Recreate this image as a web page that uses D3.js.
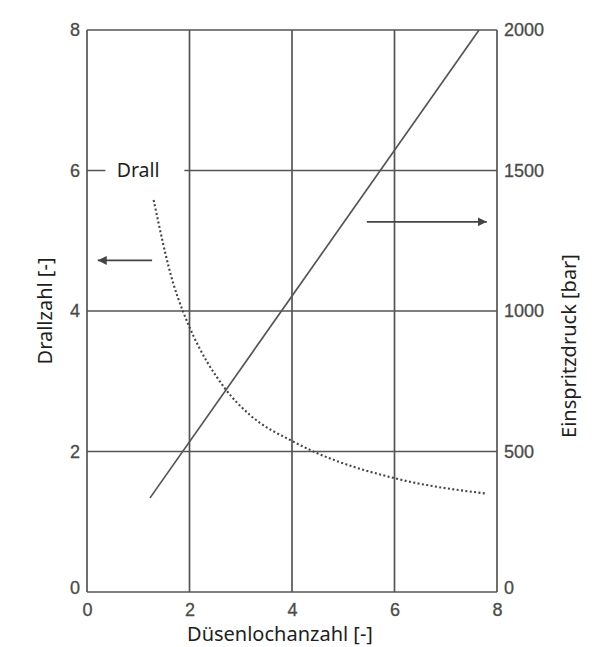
<!DOCTYPE html>
<html>
<head>
<meta charset="utf-8">
<script src="https://cdn.jsdelivr.net/npm/d3@7"></script>
<style>
  body { margin: 0; background: #fff; }
  svg { display: block; }
</style>
</head>
<body>
<div id="chart"></div>
<script>
const W = 595, H = 647;
const margin = {top: 30, right: 98, bottom: 55, left: 87};
const w = W - margin.left - margin.right;
const h = H - margin.top - margin.bottom;

// Düsenlochanzahl vs. Einspritzdruck (solid line, right axis)
const druckX = [1.23, 7.65];
const druckY = [335, 2000];

// Düsenlochanzahl vs. Drallzahl (dotted curve, left axis)
const drallX = [1.30, 1.68, 1.87, 2.0, 2.69, 3.18, 4.0, 4.45, 6.0, 7.8];
const drallY = [5.58, 4.40, 4.0, 3.77, 2.90, 2.52, 2.15, 1.99, 1.62, 1.40];

const xTicks = [0, 2, 4, 6, 8];
const yLeftTicks = [0, 2, 4, 6, 8];
const yRightTicks = [0, 500, 1000, 1500, 2000];

const gridColor = "#555";
const textColor = "#4a4a4a";

const svg = d3.select("#chart").append("svg")
  .attr("width", W).attr("height", H);

svg.append("defs").append("marker")
  .attr("id", "arrow")
  .attr("viewBox", "0 0 10 10")
  .attr("refX", 10).attr("refY", 5)
  .attr("markerWidth", 9).attr("markerHeight", 9)
  .attr("markerUnits", "userSpaceOnUse")
  .attr("orient", "auto")
  .append("path")
  .attr("d", "M0,0 L10,5 L0,10 Z")
  .attr("fill", "#444");

const g = svg.append("g")
  .attr("transform", "translate(" + margin.left + "," + margin.top + ")");

const x = d3.scaleLinear().domain([0, 8]).range([0, w]);
const yL = d3.scaleLinear().domain([0, 8]).range([h, 0]);
const yR = d3.scaleLinear().domain([0, 2000]).range([h, 0]);

// grid lines
g.append("g")
  .selectAll("line.v")
  .data(xTicks)
  .enter().append("line")
  .attr("x1", d => x(d)).attr("x2", d => x(d))
  .attr("y1", 0).attr("y2", h)
  .attr("stroke", gridColor).attr("stroke-width", 1.7);

g.append("g")
  .selectAll("line.h")
  .data(yLeftTicks)
  .enter().append("line")
  .attr("x1", 0).attr("x2", w)
  .attr("y1", d => yL(d)).attr("y2", d => yL(d))
  .attr("stroke", gridColor).attr("stroke-width", 1.7);

// tick labels via axes
const tickFont = "'Liberation Sans', Arial, sans-serif";

const xAxis = g.append("g")
  .attr("transform", "translate(0," + h + ")")
  .call(d3.axisBottom(x).tickValues(xTicks).tickSize(0).tickPadding(11));

const yAxisL = g.append("g")
  .call(d3.axisLeft(yL).tickValues(yLeftTicks).tickSize(0).tickPadding(7));

const yAxisR = g.append("g")
  .attr("transform", "translate(" + w + ",0)")
  .call(d3.axisRight(yR).tickValues(yRightTicks).tickFormat(d3.format("d")).tickSize(0).tickPadding(7));

[xAxis, yAxisL, yAxisR].forEach(a => {
  a.select(".domain").remove();
  a.selectAll("text")
    .attr("fill", textColor)
    .attr("stroke", textColor)
    .attr("stroke-width", 0.3)
    .style("font-family", tickFont)
    .style("font-size", "18px");
});
// the zero labels on the side axes sit a bit above the baseline
yAxisL.selectAll("text").filter(d => d === 0).attr("dy", "0.1em");
yAxisR.selectAll("text").filter(d => d === 0).attr("dy", "0.1em");

// "Drall" label interrupting the 6-gridline
const labelFont = "'Noto Sans', 'Open Sans', sans-serif";
g.append("rect")
  .attr("x", x(0.36)).attr("y", yL(6) - 12)
  .attr("width", x(1.9) - x(0.36)).attr("height", 24)
  .attr("fill", "#fff");
g.append("text")
  .attr("x", x(0.58)).attr("y", yL(6))
  .attr("dy", "0.35em")
  .attr("fill", "#1e1e1e")
  .style("font-family", labelFont)
  .style("font-size", "19.5px")
  .text("Drall");

// solid line (Einspritzdruck)
const druckData = druckX.map((d, i) => [d, druckY[i]]);
g.append("path")
  .datum(druckData)
  .attr("fill", "none")
  .attr("stroke", "#555")
  .attr("stroke-width", 1.7)
  .attr("d", d3.line().x(d => x(d[0])).y(d => yR(d[1])));

// dotted curve (Drallzahl)
const drallData = drallX.map((d, i) => [d, drallY[i]]);
g.append("path")
  .datum(drallData)
  .attr("fill", "none")
  .attr("stroke", "#444")
  .attr("stroke-width", 2.1)
  .attr("stroke-dasharray", "2,2.4")
  .attr("d", d3.line().curve(d3.curveMonotoneX).x(d => x(d[0])).y(d => yL(d[1])));

// arrows pointing to the relevant axes
const arrowLeft = [[1.27, 4.72], [0.21, 4.72]];
const arrowRight = [[5.46, 5.27], [7.8, 5.27]];
[arrowLeft, arrowRight].forEach(a => {
  g.append("line")
    .attr("x1", x(a[0][0])).attr("y1", yL(a[0][1]))
    .attr("x2", x(a[1][0])).attr("y2", yL(a[1][1]))
    .attr("stroke", "#444").attr("stroke-width", 1.7)
    .attr("marker-end", "url(#arrow)");
});

// axis titles
svg.append("text")
  .attr("x", margin.left + w / 2 - 12).attr("y", 641)
  .attr("text-anchor", "middle")
  .attr("fill", "#1e1e1e")
  .style("font-family", labelFont)
  .style("font-size", "20px")
  .text("Düsenlochanzahl [-]");

svg.append("text")
  .attr("transform", "translate(45," + (margin.top + yL(4)) + ") rotate(-90)")
  .attr("text-anchor", "middle")
  .attr("dy", "0.35em")
  .attr("fill", "#1e1e1e")
  .style("font-family", labelFont)
  .style("font-size", "20px")
  .text("Drallzahl [-]");

svg.append("text")
  .attr("transform", "translate(569," + 346 + ") rotate(-90)")
  .attr("text-anchor", "middle")
  .attr("dy", "0.35em")
  .attr("fill", "#1e1e1e")
  .style("font-family", labelFont)
  .style("font-size", "20px")
  .text("Einspritzdruck [bar]");
</script>
</body>
</html>
